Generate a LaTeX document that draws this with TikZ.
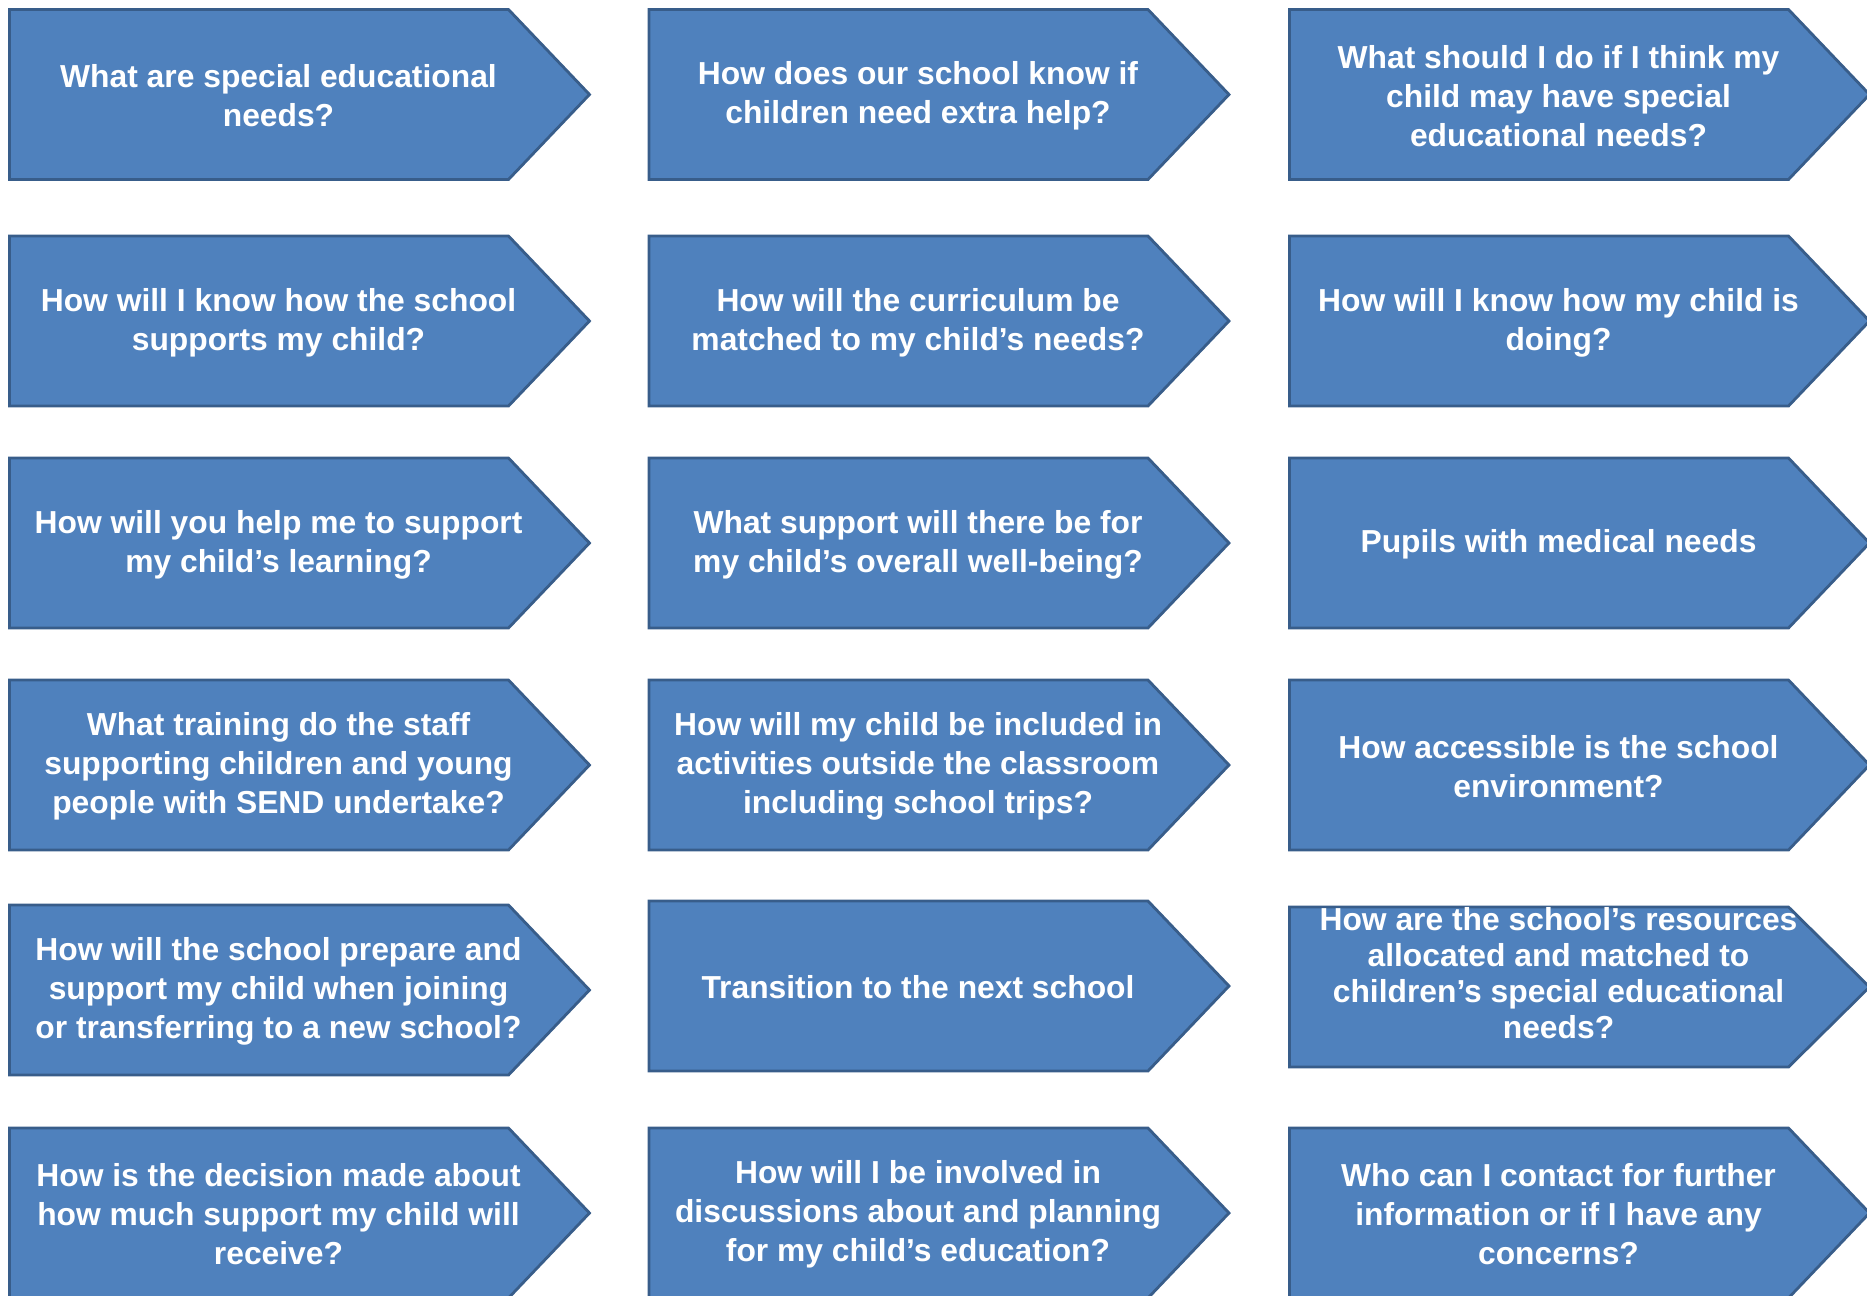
\documentclass[tikz,border=0pt]{standalone}
\usepackage{fontspec}
\setmainfont{Liberation Sans}
\usepackage{xcolor}
\usepackage{tikz}
\usetikzlibrary{positioning, calc}
\definecolor{sendblue}{RGB}{79, 129, 189}
\definecolor{sendedge}{RGB}{56, 93, 138}

% one question arrow: [height]{name}{left x}{top y}{text}
\newcommand{\qbox}[5][1.70]{%
  \filldraw[qshape] (#3,-#4) -- ++(4.99,0) -- ++(0.81,-#1/2) -- ++(-0.81,-#1/2) -- ++(-4.99,0) -- cycle;
  \node[qtext] (#2) at (#3+2.69,-#4-#1/2-0.015) {#5};
}

\begin{document}
\begin{tikzpicture}[
    qshape/.style={fill=sendblue, draw=sendedge, line width=0.8pt, line join=miter},
    qtext/.style={text=white, align=center, inner sep=0pt,
                  font=\bfseries\fontsize{9.05}{11.1}\selectfont}
]
\useasboundingbox (0,0) rectangle (18.67,-12.95);

% Row 1
\qbox{q1}{0.095}{0.095}{What are special educational\\needs?}
\qbox{q2}{6.49}{0.095}{How does our school know if\\children need extra help?}
\qbox{q3}{12.895}{0.095}{What should I do if I think my\\child may have special\\educational needs?}

% Row 2
\qbox{q4}{0.095}{2.36}{How will I know how the school\\supports my child?}
\qbox{q5}{6.49}{2.36}{How will the curriculum be\\matched to my child’s needs?}
\qbox{q6}{12.895}{2.36}{How will I know how my child is\\doing?}

% Row 3
\qbox{q7}{0.095}{4.58}{How will you help me to support\\my child’s learning?}
\qbox{q8}{6.49}{4.58}{What support will there be for\\my child’s overall well-being?}
\qbox{q9}{12.895}{4.58}{Pupils with medical needs}

% Row 4
\qbox{q10}{0.095}{6.80}{What training do the staff\\supporting children and young\\people with SEND undertake?}
\qbox{q11}{6.49}{6.80}{How will my child be included in\\activities outside the classroom\\including school trips?}
\qbox{q12}{12.895}{6.80}{How accessible is the school\\environment?}

% Row 5
\qbox{q13}{0.095}{9.05}{How will the school prepare and\\support my child when joining\\or transferring to a new school?}
\qbox{q14}{6.49}{9.01}{Transition to the next school}
\filldraw[qshape] (12.895,-9.07) -- ++(4.99,0) -- ++(0.81,-0.80) -- ++(-0.81,-0.80) -- ++(-4.99,0) -- cycle;
\node[qtext, font=\bfseries\fontsize{9.05}{10.3}\selectfont] (q15) at (15.585,-9.73)
    {How are the school’s resources\\allocated and matched to\\children’s special educational\\needs?};

% Row 6
\qbox{q16}{0.095}{11.28}{How is the decision made about\\how much support my child will\\receive?}
\qbox{q17}{6.49}{11.28}{How will I be involved in\\discussions about and planning\\for my child’s education?}
\qbox{q18}{12.895}{11.28}{Who can I contact for further\\information or if I have any\\concerns?}

\end{tikzpicture}
\end{document}
